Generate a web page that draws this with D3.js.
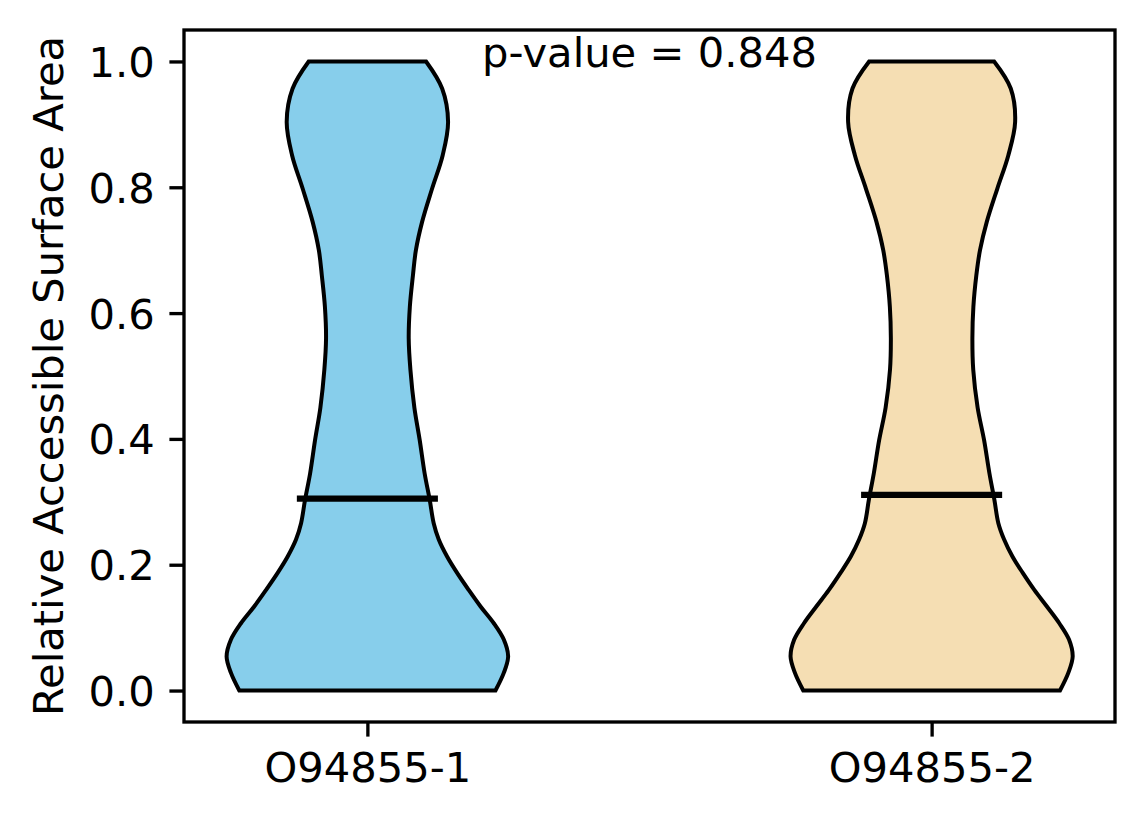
<!DOCTYPE html>
<html>
<head>
<meta charset="utf-8">
<script src="https://cdn.jsdelivr.net/npm/d3@7"></script>
<style>
  body { margin: 0; background: #fff; }
  text { font-family: "DejaVu Sans", sans-serif; }
</style>
</head>
<body>
<svg id="chart" width="1144" height="824"></svg>
<script>
// categories and the values
const categories = ["O94855-1", "O94855-2"]
const positions = [1, 2]
const medians = [0.305, 0.311]
const pValueLabel = "p-value = 0.848"
const yTicks = [0.0, 0.2, 0.4, 0.6, 0.8, 1.0]

// kde outline: value grid + density scaled to the widest point (1 = full half width)
const grid = [0, 0.028, 0.054, 0.081, 0.107, 0.134, 0.160, 0.187, 0.213, 0.24, 0.266,
              0.303, 0.345, 0.398, 0.45, 0.51, 0.56, 0.61, 0.66, 0.70, 0.745, 0.798,
              0.851, 0.904, 0.957, 1.0]
const densityA = [0.908, 0.967, 0.998, 0.967, 0.896, 0.801, 0.718, 0.636, 0.565, 0.506, 0.470,
                  0.442, 0.406, 0.371, 0.333, 0.305, 0.293, 0.301, 0.323, 0.344, 0.388, 0.459,
                  0.534, 0.572, 0.530, 0.416]
const densityB = [0.910, 0.969, 1.0, 0.974, 0.905, 0.816, 0.728, 0.646, 0.573, 0.514, 0.473,
                  0.445, 0.410, 0.372, 0.326, 0.295, 0.289, 0.296, 0.317, 0.343, 0.391, 0.466,
                  0.544, 0.592, 0.561, 0.443]

const fills = ["#87ceeb", "#f5deb3"]
const violinWidth = 0.5
const fontSize = 41.67

const svg = d3.select("#chart")
const margin = { left: 184, right: 1115, top: 30, bottom: 722 }

const x = d3.scaleLinear().domain([0.675, 2.325]).range([margin.left, margin.right])
const y = d3.scaleLinear().domain([-0.05, 1.05]).range([margin.bottom, margin.top])

const halfW = violinWidth / 2
const densities = [densityA, densityB]

// violin bodies
densities.forEach((dens, i) => {
    const pos = positions[i]
    const pts = grid.map((v, j) => ({ v: v, d: dens[j] }))
    const area = d3.area()
        .y(d => y(d.v))
        .x0(d => x(pos - d.d * halfW))
        .x1(d => x(pos + d.d * halfW))
        .curve(d3.curveCatmullRom.alpha(0.5))
    svg.append("path")
        .datum(pts)
        .attr("d", area)
        .attr("fill", fills[i])
        .attr("stroke", "#000")
        .attr("stroke-width", 4)
})

// median lines (matplotlib draws them at +-width/4)
medians.forEach((m, i) => {
    svg.append("line")
        .attr("x1", x(positions[i] - violinWidth / 4)).attr("x2", x(positions[i] + violinWidth / 4))
        .attr("y1", y(m)).attr("y2", y(m))
        .attr("stroke", "#000").attr("stroke-width", 6.25)
})

// axes frame
svg.append("rect")
    .attr("x", margin.left).attr("y", margin.top)
    .attr("width", margin.right - margin.left).attr("height", margin.bottom - margin.top)
    .attr("fill", "none").attr("stroke", "#000").attr("stroke-width", 3.33)

const tickLen = 14.6
const tickPad = 14.6

// y axis
const yAxis = d3.axisLeft(y).tickValues(yTicks).tickFormat(d3.format(".1f"))
    .tickSize(tickLen).tickPadding(tickPad)
const gy = svg.append("g").attr("transform", `translate(${margin.left},0)`).call(yAxis)
gy.select(".domain").remove()
gy.selectAll(".tick line").attr("stroke", "#000").attr("stroke-width", 3.33)
gy.selectAll(".tick text").attr("font-size", fontSize).attr("fill", "#000")
    .attr("font-family", "DejaVu Sans").attr("dy", "0.36em")

// x axis
const xAxis = d3.axisBottom(x).tickValues(positions).tickFormat((d, i) => categories[i])
    .tickSize(tickLen).tickPadding(tickPad)
const gx = svg.append("g").attr("transform", `translate(0,${margin.bottom})`).call(xAxis)
gx.select(".domain").remove()
gx.selectAll(".tick line").attr("stroke", "#000").attr("stroke-width", 3.33)
gx.selectAll(".tick text").attr("font-size", fontSize).attr("fill", "#000")
    .attr("font-family", "DejaVu Sans").attr("dy", "0.74em")

// y label
svg.append("text")
    .attr("transform", `translate(63,${(margin.top + margin.bottom) / 2}) rotate(-90)`)
    .attr("text-anchor", "middle")
    .attr("font-size", fontSize)
    .text("Relative Accessible Surface Area")

// p-value annotation
svg.append("text")
    .attr("x", x(1.5)).attr("y", 67)
    .attr("text-anchor", "middle")
    .attr("font-size", fontSize)
    .text(pValueLabel)
</script>
</body>
</html>
